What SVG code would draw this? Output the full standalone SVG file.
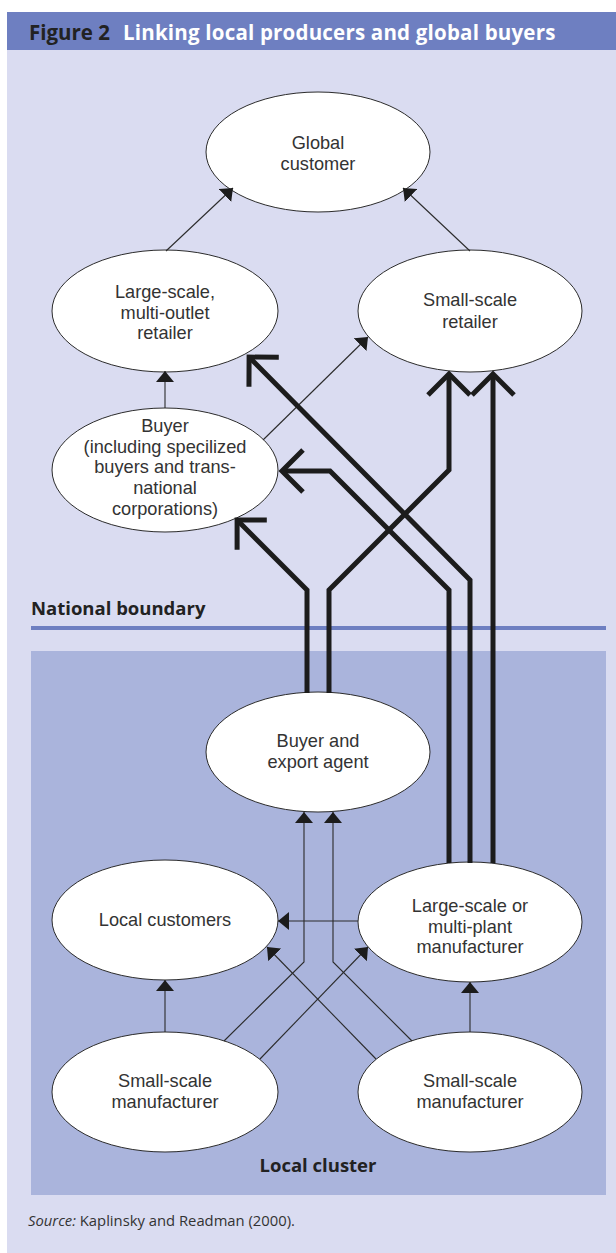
<svg xmlns="http://www.w3.org/2000/svg" width="616" height="1253" viewBox="0 0 616 1253">
<style>
.node ellipse{fill:#fff;stroke:#2b2b2b;stroke-width:1}
.node text{font-family:"Liberation Sans",Arial,sans-serif;font-size:18.2px;fill:#333;text-anchor:middle}
.thin{fill:none;stroke:#2b2b2b;stroke-width:1.1;marker-end:url(#tri)}
.thick{fill:none;stroke:#1c1c1c;stroke-width:5;stroke-linejoin:miter;marker-end:url(#chev)}
.lbl{font-family:"Open Sans","Noto Sans",sans-serif;font-weight:bold;fill:#222}
</style>
<defs>
<marker id="tri" markerUnits="userSpaceOnUse" orient="auto" viewBox="0 0 11 18" refX="11" refY="9" markerWidth="11" markerHeight="18">
<path d="M0,0 L11,9 L0,18 z" fill="#1c1c1c"/>
</marker>
<marker id="chev" markerUnits="userSpaceOnUse" orient="auto" refX="0" refY="0" markerWidth="1" markerHeight="1" overflow="visible">
<path d="M-21,-21 L0,0 L-21,21" fill="none" stroke="#1c1c1c" stroke-width="5" stroke-linejoin="miter"/>
</marker>
</defs>
<rect x="0" y="0" width="616" height="1253" fill="#fff"/>
<rect x="7" y="12" width="609" height="38" fill="#6e7fc1"/>
<rect x="7" y="50" width="609" height="1203" fill="#dadcf1"/>
<rect x="31" y="651" width="575" height="544" fill="#aab4dc"/>
<rect x="31" y="626" width="575" height="4" fill="#6e7fc1"/>
<text x="29" y="39.5" font-family="'Open Sans','Noto Sans',sans-serif" font-weight="bold" font-size="20.5"><tspan fill="#222">Figure 2</tspan><tspan fill="#fff" dx="13" letter-spacing="0.2">Linking local producers and global buyers</tspan></text>
<text class="lbl" x="31" y="615" font-size="18.5">National boundary</text>
<text class="lbl" x="318" y="1172" font-size="18.5" text-anchor="middle">Local cluster</text>
<text x="28" y="1226" font-family="'Open Sans','Noto Sans',sans-serif" font-size="14.8" fill="#333"><tspan font-style="italic">Source:</tspan> Kaplinsky and Readman (2000).</text>

<g id="global-customer" class="node"><ellipse cx="318" cy="152" rx="112" ry="60"/><text x="318" y="149">Global</text><text x="318" y="170">customer</text></g>
<g id="large-retailer" class="node"><ellipse cx="165" cy="311" rx="113" ry="61"/><text x="165" y="298">Large-scale,</text><text x="165" y="318.5">multi-outlet</text><text x="165" y="339">retailer</text></g>
<g id="small-retailer" class="node"><ellipse cx="470" cy="311" rx="112" ry="61"/><text x="470" y="306">Small-scale</text><text x="470" y="328">retailer</text></g>
<g id="buyer" class="node"><ellipse cx="165" cy="470" rx="113" ry="62"/><text x="165" y="431.5">Buyer</text><text x="165" y="452.5">(including specilized</text><text x="165" y="473.3">buyers and trans-</text><text x="165" y="494">national</text><text x="165" y="515">corporations)</text></g>
<g id="buyer-export" class="node"><ellipse cx="318" cy="752" rx="112" ry="60"/><text x="318" y="747">Buyer and</text><text x="318" y="768">export agent</text></g>
<g id="local-customers" class="node"><ellipse cx="165" cy="920" rx="113" ry="60"/><text x="165" y="926">Local customers</text></g>
<g id="large-manufacturer" class="node"><ellipse cx="470" cy="922" rx="112" ry="60"/><text x="470" y="912">Large-scale or</text><text x="470" y="932.5">multi-plant</text><text x="470" y="953">manufacturer</text></g>
<g id="small-manufacturer-left" class="node"><ellipse cx="165" cy="1092" rx="113" ry="60"/><text x="165" y="1087">Small-scale</text><text x="165" y="1108">manufacturer</text></g>
<g id="small-manufacturer-right" class="node"><ellipse cx="470" cy="1092" rx="112" ry="60"/><text x="470" y="1087">Small-scale</text><text x="470" y="1108">manufacturer</text></g>

<g id="connectors">
<path class="thin" d="M166,251 L233,188"/>
<path class="thin" d="M470,251 L403,188"/>
<path class="thin" d="M165,408 L165,371"/>
<path class="thin" d="M263,440 L368,337"/>
<path class="thin" d="M224,1041 L304,962 L304,812"/>
<path class="thin" d="M412,1041 L333,962 L333,812"/>
<path class="thin" d="M260,1059 L368,947"/>
<path class="thin" d="M376,1059 L267,947"/>
<path class="thin" d="M358,921 L278,921"/>
<path class="thin" d="M165,1032 L165,980"/>
<path class="thin" d="M470,1032 L470,982"/>
<path class="thick" d="M307,693 L307,590 L237.1,520.1"/>
<path class="thick" d="M329,693 L329,590 L449,470 L449,374"/>
<path class="thick" d="M449,863 L449,590 L330,471 L282,471"/>
<path class="thick" d="M470,863 L470,580 L249.1,357.1"/>
<path class="thick" d="M493,863 L493,374"/>
</g>
</svg>
